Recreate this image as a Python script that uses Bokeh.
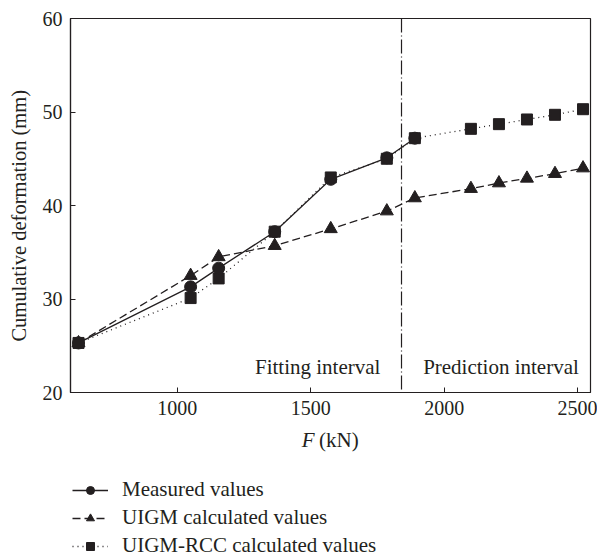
from bokeh.plotting import figure
from bokeh.models import (ColumnDataSource, Legend, LegendItem, Span, Label,
                          FixedTicker, Range1d)
from bokeh.layouts import column
from bokeh.embed import file_html
from bokeh.resources import INLINE

# ---- data ----
force = [630, 1050, 1155, 1365, 1575, 1785, 1890, 2100, 2205, 2310, 2415, 2520]
measured = [25.3, 31.3, 33.3, 37.2, 42.8, 45.1, 47.2]
uigm = [25.3, 32.5, 34.5, 35.7, 37.5, 39.4, 40.8, 41.8, 42.4, 42.9, 43.4, 44.0]
uigm_rcc = [25.3, 30.1, 32.2, 37.2, 43.0, 45.0, 47.2, 48.2, 48.7, 49.2, 49.7, 50.3]
split_force = 1840
x_ticks = [1000, 1500, 2000, 2500]
y_ticks = [20, 30, 40, 50, 60]
series_names = ["Measured values", "UIGM calculated values", "UIGM-RCC calculated values"]
interval_names = ["Fitting interval", "Prediction interval"]

INK = "#231f20"
FONT = "Liberation Serif"
FS = "20px"
FS2 = "21px"

TOP_H = 425
BOT_H = 559 - TOP_H

xr = Range1d(600, 2548)

p = figure(width=597, height=TOP_H, output_backend="svg", toolbar_location=None,
           x_range=xr, y_range=Range1d(20, 60),
           min_border_left=70, min_border_right=7, min_border_top=18,
           min_border_bottom=TOP_H - 392)
p.background_fill_color = "white"
p.border_fill_color = "white"
p.grid.visible = False
p.outline_line_color = INK
p.outline_line_width = 1.2

for ax in (p.xaxis[0], p.yaxis[0]):
    ax.axis_line_color = INK
    ax.axis_line_width = 1.2
    ax.major_tick_line_color = INK
    ax.major_tick_in = 5
    ax.major_tick_out = 0
    ax.minor_tick_line_color = None
    ax.major_label_text_font = FONT
    ax.major_label_text_font_size = FS
    ax.major_label_text_color = INK
    ax.axis_label_text_font = FONT
    ax.axis_label_text_font_size = "20.5px"
    ax.axis_label_text_color = INK
    ax.axis_label_text_font_style = "normal"

p.xaxis.ticker = FixedTicker(ticks=x_ticks)
p.yaxis.ticker = FixedTicker(ticks=y_ticks)
p.xaxis.major_label_standoff = 8
p.yaxis.major_label_standoff = 8
p.yaxis.axis_label = "Cumulative deformation (mm)\u2003"
p.yaxis.axis_label_standoff = 10

src_m = ColumnDataSource(dict(x=force[:len(measured)], y=measured))
src_u = ColumnDataSource(dict(x=force, y=uigm))
src_r = ColumnDataSource(dict(x=force, y=uigm_rcc))

styles = [
    (src_m, None, "circle", 12),
    (src_u, "8 4", "triangle", 13),
    (src_r, "1 4", "square", 11),
]


def draw(fig, style_list, visible=True):
    rends = []
    for src, dash, marker, size in style_list:
        kw = dict(line_color=INK, line_width=1.3)
        if dash:
            kw["line_dash"] = dash
        l = fig.line("x", "y", source=src, visible=visible, **kw)
        s = fig.scatter("x", "y", source=src, marker=marker, size=size,
                        fill_color=INK, line_color=INK, visible=visible)
        rends.append((l, s))
    return rends


# draw order: RCC first, then UIGM, then measured on top
draw(p, list(reversed(styles)))

p.add_layout(Span(location=split_force, dimension="height", line_color=INK,
                  line_width=1.2, line_dash="14 3 1 3"))

p.add_layout(Label(x=1761, y=22.7, text=interval_names[0], text_align="right",
                   text_baseline="alphabetic", text_font=FONT, text_font_size=FS2,
                   text_color=INK))
p.add_layout(Label(x=1921, y=22.7, text=interval_names[1], text_align="left",
                   text_baseline="alphabetic", text_font=FONT, text_font_size=FS2,
                   text_color=INK))

# ---- lower strip: x-axis title and legend ----
q = figure(width=597, height=BOT_H, output_backend="svg", toolbar_location=None,
           x_range=xr, y_range=Range1d(0, BOT_H),
           x_axis_location=None, y_axis_location=None,
           min_border_left=70, min_border_right=7, min_border_top=0,
           min_border_bottom=0)
q.grid.visible = False
q.outline_line_color = None
q.background_fill_color = "white"
q.border_fill_color = "white"

q.add_layout(Label(x=1514, y=120, text="F", text_align="right",
                   text_baseline="alphabetic", text_font=FONT, text_font_size=FS2,
                   text_font_style="italic", text_color=INK))
q.add_layout(Label(x=1531, y=120, text="(kN)", text_align="left",
                   text_baseline="alphabetic", text_font=FONT, text_font_size=FS2,
                   text_color=INK))

leg_rends = draw(q, styles, visible=False)
legend = Legend(items=[
    LegendItem(label=series_names[i], renderers=list(leg_rends[i])) for i in range(3)
], location=(2, 1))
legend.orientation = "vertical"
legend.border_line_color = None
legend.background_fill_alpha = 0
legend.margin = 0
legend.padding = 0
legend.spacing = 3
legend.glyph_width = 36
legend.glyph_height = 20
legend.label_height = 20
legend.label_standoff = 14
legend.label_text_font = FONT
legend.label_text_font_size = FS2
legend.label_text_color = INK
q.add_layout(legend, "center")

open("out.html", "w").write(file_html(column(p, q, spacing=0), INLINE))
